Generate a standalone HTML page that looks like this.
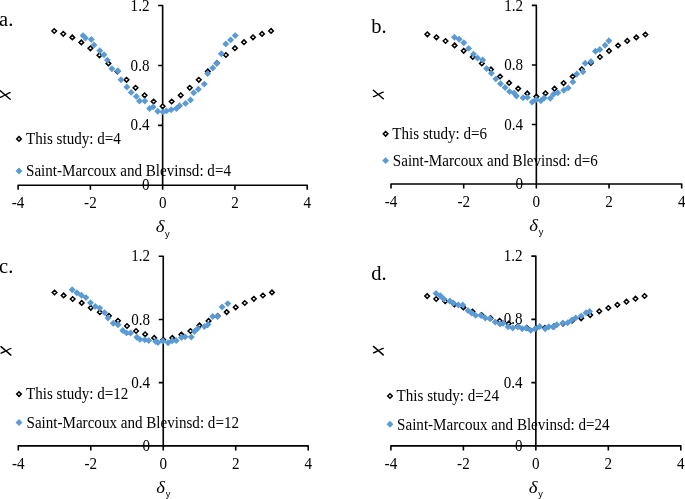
<!DOCTYPE html>
<html><head><meta charset="utf-8"><style>
html,body{margin:0;padding:0;background:#fff;}
body{width:685px;height:499px;overflow:hidden;}
svg{display:block;will-change:transform;}
.t{font-family:"Liberation Serif", serif;font-size:15.1px;fill:#000;}
.pl{font-family:"Liberation Serif", serif;font-size:20.5px;fill:#000;}
.dl{font-family:"Liberation Serif", serif;font-style:italic;font-size:17px;fill:#000;}
.sub{font-family:"Liberation Sans", sans-serif;font-size:9.2px;fill:#000;}
.chi{font-family:"Liberation Serif", serif;font-style:italic;font-size:16px;fill:#000;}
.o{fill:#fff;stroke:#000;stroke-width:1.5;}
</style></head><body>
<svg width="685" height="499" viewBox="0 0 685 499">
<rect width="685" height="499" fill="#fff"/>
<path d="M18.10 189.80V185.30H307.20V189.80M90.38 185.30V189.80M162.65 185.30V189.80M234.92 185.30V189.80M158.15 5.50H162.65V185.30M158.15 185.30H162.65M158.15 125.37H162.65M158.15 65.43H162.65" stroke="#000" stroke-width="1.6" fill="none" stroke-linecap="butt" stroke-linejoin="round"/>
<text transform="translate(149.45 190.40) scale(1 1.075)" text-anchor="end" class="t">0</text>
<text transform="translate(149.45 130.47) scale(1 1.075)" text-anchor="end" class="t">0.4</text>
<text transform="translate(149.45 70.53) scale(1 1.075)" text-anchor="end" class="t">0.8</text>
<text transform="translate(149.45 10.60) scale(1 1.075)" text-anchor="end" class="t">1.2</text>
<text transform="translate(18.10 208.10) scale(1 1.075)" text-anchor="middle" class="t">-4</text>
<text transform="translate(90.38 208.10) scale(1 1.075)" text-anchor="middle" class="t">-2</text>
<text transform="translate(162.65 208.10) scale(1 1.075)" text-anchor="middle" class="t">0</text>
<text transform="translate(234.92 208.10) scale(1 1.075)" text-anchor="middle" class="t">2</text>
<text transform="translate(307.20 208.10) scale(1 1.075)" text-anchor="middle" class="t">4</text>
<text transform="translate(155.65 232.10) scale(1.1 1)" class="dl">δ</text><text x="165.05" y="236.50" class="sub">y</text>
<g transform="translate(5.30 95.00)" stroke="#000" fill="none" stroke-linecap="round"><path d="M-5.0 -4.2L4.9 4.3" stroke-width="1.45"/><path d="M-5.0 2.3C-2.5 1.6 -1.5 0.6 0 0S2.5 -1.6 4.9 -2.3" stroke-width="1.3"/></g>
<path d="M54.24 28.70L56.54 31.00L54.24 33.30L51.94 31.00Z" class="o"/>
<path d="M63.27 31.50L65.57 33.80L63.27 36.10L60.97 33.80Z" class="o"/>
<path d="M72.31 35.10L74.61 37.40L72.31 39.70L70.01 37.40Z" class="o"/>
<path d="M81.34 40.10L83.64 42.40L81.34 44.70L79.04 42.40Z" class="o"/>
<path d="M90.38 46.00L92.68 48.30L90.38 50.60L88.08 48.30Z" class="o"/>
<path d="M99.41 53.00L101.71 55.30L99.41 57.60L97.11 55.30Z" class="o"/>
<path d="M108.44 61.10L110.74 63.40L108.44 65.70L106.14 63.40Z" class="o"/>
<path d="M117.48 69.10L119.78 71.40L117.48 73.70L115.18 71.40Z" class="o"/>
<path d="M126.51 77.50L128.81 79.80L126.51 82.10L124.21 79.80Z" class="o"/>
<path d="M135.55 85.50L137.85 87.80L135.55 90.10L133.25 87.80Z" class="o"/>
<path d="M144.58 93.00L146.88 95.30L144.58 97.60L142.28 95.30Z" class="o"/>
<path d="M153.62 99.20L155.92 101.50L153.62 103.80L151.32 101.50Z" class="o"/>
<path d="M162.65 104.00L164.95 106.30L162.65 108.60L160.35 106.30Z" class="o"/>
<path d="M171.68 99.20L173.98 101.50L171.68 103.80L169.38 101.50Z" class="o"/>
<path d="M180.72 93.00L183.02 95.30L180.72 97.60L178.42 95.30Z" class="o"/>
<path d="M189.75 85.50L192.05 87.80L189.75 90.10L187.45 87.80Z" class="o"/>
<path d="M198.79 77.50L201.09 79.80L198.79 82.10L196.49 79.80Z" class="o"/>
<path d="M207.82 69.10L210.12 71.40L207.82 73.70L205.52 71.40Z" class="o"/>
<path d="M216.86 60.90L219.16 63.20L216.86 65.50L214.56 63.20Z" class="o"/>
<path d="M225.89 52.70L228.19 55.00L225.89 57.30L223.59 55.00Z" class="o"/>
<path d="M234.93 45.90L237.23 48.20L234.93 50.50L232.62 48.20Z" class="o"/>
<path d="M243.96 39.90L246.26 42.20L243.96 44.50L241.66 42.20Z" class="o"/>
<path d="M252.99 35.00L255.29 37.30L252.99 39.60L250.69 37.30Z" class="o"/>
<path d="M262.03 31.60L264.33 33.90L262.03 36.20L259.73 33.90Z" class="o"/>
<path d="M271.06 28.60L273.36 30.90L271.06 33.20L268.76 30.90Z" class="o"/>
<path d="M83.00 32.15L86.45 35.60L83.00 39.05L79.55 35.60ZM85.40 34.55L88.85 38.00L85.40 41.45L81.95 38.00ZM91.40 36.05L94.85 39.50L91.40 42.95L87.95 39.50ZM94.00 41.65L97.45 45.10L94.00 48.55L90.55 45.10ZM99.80 47.25L103.25 50.70L99.80 54.15L96.35 50.70ZM104.00 51.25L107.45 54.70L104.00 58.15L100.55 54.70ZM107.40 56.65L110.85 60.10L107.40 63.55L103.95 60.10ZM111.90 65.35L115.35 68.80L111.90 72.25L108.45 68.80ZM118.00 67.55L121.45 71.00L118.00 74.45L114.55 71.00ZM121.00 76.35L124.45 79.80L121.00 83.25L117.55 79.80ZM126.90 83.55L130.35 87.00L126.90 90.45L123.45 87.00ZM131.20 88.95L134.65 92.40L131.20 95.85L127.75 92.40ZM136.30 92.95L139.75 96.40L136.30 99.85L132.85 96.40ZM139.50 97.55L142.95 101.00L139.50 104.45L136.05 101.00ZM144.80 97.55L148.25 101.00L144.80 104.45L141.35 101.00ZM149.60 105.05L153.05 108.50L149.60 111.95L146.15 108.50ZM153.20 103.45L156.65 106.90L153.20 110.35L149.75 106.90ZM157.70 107.85L161.15 111.30L157.70 114.75L154.25 111.30ZM163.00 108.45L166.45 111.90L163.00 115.35L159.55 111.90ZM166.40 107.45L169.85 110.90L166.40 114.35L162.95 110.90ZM171.20 106.25L174.65 109.70L171.20 113.15L167.75 109.70ZM176.40 105.05L179.85 108.50L176.40 111.95L172.95 108.50ZM179.60 102.35L183.05 105.80L179.60 109.25L176.15 105.80ZM185.50 99.95L188.95 103.40L185.50 106.85L182.05 103.40ZM190.50 96.55L193.95 100.00L190.50 103.45L187.05 100.00ZM193.70 89.35L197.15 92.80L193.70 96.25L190.25 92.80ZM198.40 85.85L201.85 89.30L198.40 92.75L194.95 89.30ZM204.30 80.65L207.75 84.10L204.30 87.55L200.85 84.10ZM207.60 70.15L211.05 73.60L207.60 77.05L204.15 73.60ZM212.80 64.55L216.25 68.00L212.80 71.45L209.35 68.00ZM216.90 59.75L220.35 63.20L216.90 66.65L213.45 63.20ZM221.30 50.25L224.75 53.70L221.30 57.15L217.85 53.70ZM225.80 40.45L229.25 43.90L225.80 47.35L222.35 43.90ZM230.60 36.45L234.05 39.90L230.60 43.35L227.15 39.90ZM235.20 32.15L238.65 35.60L235.20 39.05L231.75 35.60Z" fill="#5B9BD5"/>
<path d="M19.00 136.60L21.30 138.90L19.00 141.20L16.70 138.90Z" class="o"/>
<path d="M19.00 167.55L22.45 171.00L19.00 174.45L15.55 171.00Z" fill="#5B9BD5"/>
<text transform="translate(26.00 143.80) scale(1 1.075)" class="t">This study: d=4</text>
<text transform="translate(26.00 175.60) scale(1 1.075)" class="t">Saint-Marcoux and Blevinsd: d=4</text>
<text x="-0.90" y="25.90" class="pl">a.</text>
<path d="M391.00 188.50V184.00H681.70V188.50M463.68 184.00V188.50M536.35 184.00V188.50M609.03 184.00V188.50M531.85 5.40H536.35V184.00M531.85 184.00H536.35M531.85 124.47H536.35M531.85 64.93H536.35" stroke="#000" stroke-width="1.6" fill="none" stroke-linecap="butt" stroke-linejoin="round"/>
<text transform="translate(523.15 189.10) scale(1 1.075)" text-anchor="end" class="t">0</text>
<text transform="translate(523.15 129.57) scale(1 1.075)" text-anchor="end" class="t">0.4</text>
<text transform="translate(523.15 70.03) scale(1 1.075)" text-anchor="end" class="t">0.8</text>
<text transform="translate(523.15 10.50) scale(1 1.075)" text-anchor="end" class="t">1.2</text>
<text transform="translate(391.00 206.80) scale(1 1.075)" text-anchor="middle" class="t">-4</text>
<text transform="translate(463.68 206.80) scale(1 1.075)" text-anchor="middle" class="t">-2</text>
<text transform="translate(536.35 206.80) scale(1 1.075)" text-anchor="middle" class="t">0</text>
<text transform="translate(609.03 206.80) scale(1 1.075)" text-anchor="middle" class="t">2</text>
<text transform="translate(681.70 206.80) scale(1 1.075)" text-anchor="middle" class="t">4</text>
<text transform="translate(529.35 230.80) scale(1.1 1)" class="dl">δ</text><text x="538.75" y="235.20" class="sub">y</text>
<g transform="translate(378.40 94.40)" stroke="#000" fill="none" stroke-linecap="round"><path d="M-5.0 -4.2L4.9 4.3" stroke-width="1.45"/><path d="M-5.0 2.3C-2.5 1.6 -1.5 0.6 0 0S2.5 -1.6 4.9 -2.3" stroke-width="1.3"/></g>
<path d="M427.34 32.00L429.64 34.30L427.34 36.60L425.04 34.30Z" class="o"/>
<path d="M436.42 35.00L438.72 37.30L436.42 39.60L434.12 37.30Z" class="o"/>
<path d="M445.51 38.70L447.81 41.00L445.51 43.30L443.21 41.00Z" class="o"/>
<path d="M454.59 43.10L456.89 45.40L454.59 47.70L452.29 45.40Z" class="o"/>
<path d="M463.68 48.50L465.98 50.80L463.68 53.10L461.38 50.80Z" class="o"/>
<path d="M472.76 54.60L475.06 56.90L472.76 59.20L470.46 56.90Z" class="o"/>
<path d="M481.84 61.10L484.14 63.40L481.84 65.70L479.54 63.40Z" class="o"/>
<path d="M490.93 67.10L493.23 69.40L490.93 71.70L488.63 69.40Z" class="o"/>
<path d="M500.01 74.20L502.31 76.50L500.01 78.80L497.71 76.50Z" class="o"/>
<path d="M509.10 80.60L511.40 82.90L509.10 85.20L506.80 82.90Z" class="o"/>
<path d="M518.18 86.30L520.48 88.60L518.18 90.90L515.88 88.60Z" class="o"/>
<path d="M527.27 91.10L529.57 93.40L527.27 95.70L524.97 93.40Z" class="o"/>
<path d="M536.35 94.30L538.65 96.60L536.35 98.90L534.05 96.60Z" class="o"/>
<path d="M545.43 91.00L547.73 93.30L545.43 95.60L543.13 93.30Z" class="o"/>
<path d="M554.52 86.40L556.82 88.70L554.52 91.00L552.22 88.70Z" class="o"/>
<path d="M563.60 80.80L565.90 83.10L563.60 85.40L561.30 83.10Z" class="o"/>
<path d="M572.69 74.20L574.99 76.50L572.69 78.80L570.39 76.50Z" class="o"/>
<path d="M581.77 67.00L584.07 69.30L581.77 71.60L579.47 69.30Z" class="o"/>
<path d="M590.86 60.70L593.16 63.00L590.86 65.30L588.56 63.00Z" class="o"/>
<path d="M599.94 54.70L602.24 57.00L599.94 59.30L597.64 57.00Z" class="o"/>
<path d="M609.03 48.60L611.33 50.90L609.03 53.20L606.73 50.90Z" class="o"/>
<path d="M618.11 43.20L620.41 45.50L618.11 47.80L615.81 45.50Z" class="o"/>
<path d="M627.19 38.60L629.49 40.90L627.19 43.20L624.89 40.90Z" class="o"/>
<path d="M636.28 35.10L638.58 37.40L636.28 39.70L633.98 37.40Z" class="o"/>
<path d="M645.36 32.20L647.66 34.50L645.36 36.80L643.06 34.50Z" class="o"/>
<path d="M454.40 33.85L457.85 37.30L454.40 40.75L450.95 37.30ZM459.20 35.75L462.65 39.20L459.20 42.65L455.75 39.20ZM463.80 39.35L467.25 42.80L463.80 46.25L460.35 42.80ZM468.60 44.95L472.05 48.40L468.60 51.85L465.15 48.40ZM473.50 50.65L476.95 54.10L473.50 57.55L470.05 54.10ZM477.50 54.55L480.95 58.00L477.50 61.45L474.05 58.00ZM482.70 56.55L486.15 60.00L482.70 63.45L479.25 60.00ZM486.60 65.15L490.05 68.60L486.60 72.05L483.15 68.60ZM491.40 69.85L494.85 73.30L491.40 76.75L487.95 73.30ZM495.80 75.45L499.25 78.90L495.80 82.35L492.35 78.90ZM500.50 80.35L503.95 83.80L500.50 87.25L497.05 83.80ZM505.10 84.05L508.55 87.50L505.10 90.95L501.65 87.50ZM509.50 88.15L512.95 91.60L509.50 95.05L506.05 91.60ZM514.00 89.55L517.45 93.00L514.00 96.45L510.55 93.00ZM516.40 92.55L519.85 96.00L516.40 99.45L512.95 96.00ZM523.10 94.25L526.55 97.70L523.10 101.15L519.65 97.70ZM527.40 93.95L530.85 97.40L527.40 100.85L523.95 97.40ZM532.20 98.65L535.65 102.10L532.20 105.55L528.75 102.10ZM536.10 96.05L539.55 99.50L536.10 102.95L532.65 99.50ZM540.90 97.25L544.35 100.70L540.90 104.15L537.45 100.70ZM544.20 94.55L547.65 98.00L544.20 101.45L540.75 98.00ZM550.30 94.85L553.75 98.30L550.30 101.75L546.85 98.30ZM553.50 90.85L556.95 94.30L553.50 97.75L550.05 94.30ZM557.80 89.25L561.25 92.70L557.80 96.15L554.35 92.70ZM563.80 86.85L567.25 90.30L563.80 93.75L560.35 90.30ZM568.20 84.45L571.65 87.90L568.20 91.35L564.75 87.90ZM572.90 78.45L576.35 81.90L572.90 85.35L569.45 81.90ZM576.80 70.55L580.25 74.00L576.80 77.45L573.35 74.00ZM583.00 68.25L586.45 71.70L583.00 75.15L579.55 71.70ZM585.20 59.85L588.65 63.30L585.20 66.75L581.75 63.30ZM591.00 58.15L594.45 61.60L591.00 65.05L587.55 61.60ZM595.40 47.75L598.85 51.20L595.40 54.65L591.95 51.20ZM599.80 46.05L603.25 49.50L599.80 52.95L596.35 49.50ZM605.10 41.75L608.55 45.20L605.10 48.65L601.65 45.20ZM608.90 37.35L612.35 40.80L608.90 44.25L605.45 40.80Z" fill="#5B9BD5"/>
<path d="M385.60 131.50L387.90 133.80L385.60 136.10L383.30 133.80Z" class="o"/>
<path d="M385.60 157.15L389.05 160.60L385.60 164.05L382.15 160.60Z" fill="#5B9BD5"/>
<text transform="translate(392.30 139.00) scale(1 1.075)" class="t">This study: d=6</text>
<text transform="translate(392.80 165.90) scale(1 1.075)" class="t">Saint-Marcoux and Blevinsd: d=6</text>
<text x="371.30" y="33.00" class="pl">b.</text>
<path d="M18.30 450.40V445.90H308.20V450.40M90.77 445.90V450.40M163.25 445.90V450.40M235.72 445.90V450.40M158.75 256.20H163.25V445.90M158.75 445.90H163.25M158.75 382.67H163.25M158.75 319.43H163.25" stroke="#000" stroke-width="1.6" fill="none" stroke-linecap="butt" stroke-linejoin="round"/>
<text transform="translate(150.05 451.00) scale(1 1.075)" text-anchor="end" class="t">0</text>
<text transform="translate(150.05 387.77) scale(1 1.075)" text-anchor="end" class="t">0.4</text>
<text transform="translate(150.05 324.53) scale(1 1.075)" text-anchor="end" class="t">0.8</text>
<text transform="translate(150.05 261.30) scale(1 1.075)" text-anchor="end" class="t">1.2</text>
<text transform="translate(18.30 468.70) scale(1 1.075)" text-anchor="middle" class="t">-4</text>
<text transform="translate(90.77 468.70) scale(1 1.075)" text-anchor="middle" class="t">-2</text>
<text transform="translate(163.25 468.70) scale(1 1.075)" text-anchor="middle" class="t">0</text>
<text transform="translate(235.72 468.70) scale(1 1.075)" text-anchor="middle" class="t">2</text>
<text transform="translate(308.20 468.70) scale(1 1.075)" text-anchor="middle" class="t">4</text>
<text transform="translate(156.25 492.70) scale(1.1 1)" class="dl">δ</text><text x="165.65" y="497.10" class="sub">y</text>
<g transform="translate(6.00 350.80)" stroke="#000" fill="none" stroke-linecap="round"><path d="M-5.0 -4.2L4.9 4.3" stroke-width="1.45"/><path d="M-5.0 2.3C-2.5 1.6 -1.5 0.6 0 0S2.5 -1.6 4.9 -2.3" stroke-width="1.3"/></g>
<path d="M54.54 290.20L56.84 292.50L54.54 294.80L52.24 292.50Z" class="o"/>
<path d="M63.60 293.10L65.90 295.40L63.60 297.70L61.30 295.40Z" class="o"/>
<path d="M72.66 296.70L74.96 299.00L72.66 301.30L70.36 299.00Z" class="o"/>
<path d="M81.72 300.60L84.02 302.90L81.72 305.20L79.42 302.90Z" class="o"/>
<path d="M90.78 305.50L93.08 307.80L90.78 310.10L88.48 307.80Z" class="o"/>
<path d="M99.83 309.90L102.13 312.20L99.83 314.50L97.53 312.20Z" class="o"/>
<path d="M108.89 313.50L111.19 315.80L108.89 318.10L106.59 315.80Z" class="o"/>
<path d="M117.95 318.50L120.25 320.80L117.95 323.10L115.65 320.80Z" class="o"/>
<path d="M127.01 323.70L129.31 326.00L127.01 328.30L124.71 326.00Z" class="o"/>
<path d="M136.07 328.70L138.37 331.00L136.07 333.30L133.77 331.00Z" class="o"/>
<path d="M145.13 332.00L147.43 334.30L145.13 336.60L142.83 334.30Z" class="o"/>
<path d="M154.19 335.60L156.49 337.90L154.19 340.20L151.89 337.90Z" class="o"/>
<path d="M163.25 337.50L165.55 339.80L163.25 342.10L160.95 339.80Z" class="o"/>
<path d="M172.31 335.60L174.61 337.90L172.31 340.20L170.01 337.90Z" class="o"/>
<path d="M181.37 332.20L183.67 334.50L181.37 336.80L179.07 334.50Z" class="o"/>
<path d="M190.43 328.70L192.73 331.00L190.43 333.30L188.13 331.00Z" class="o"/>
<path d="M199.49 323.10L201.79 325.40L199.49 327.70L197.19 325.40Z" class="o"/>
<path d="M208.55 318.60L210.85 320.90L208.55 323.20L206.25 320.90Z" class="o"/>
<path d="M217.61 313.70L219.91 316.00L217.61 318.30L215.31 316.00Z" class="o"/>
<path d="M226.67 309.80L228.97 312.10L226.67 314.40L224.37 312.10Z" class="o"/>
<path d="M235.72 305.00L238.03 307.30L235.72 309.60L233.42 307.30Z" class="o"/>
<path d="M244.78 300.70L247.08 303.00L244.78 305.30L242.48 303.00Z" class="o"/>
<path d="M253.84 296.50L256.14 298.80L253.84 301.10L251.54 298.80Z" class="o"/>
<path d="M262.90 293.20L265.20 295.50L262.90 297.80L260.60 295.50Z" class="o"/>
<path d="M271.96 290.10L274.26 292.40L271.96 294.70L269.66 292.40Z" class="o"/>
<path d="M72.20 286.35L75.65 289.80L72.20 293.25L68.75 289.80ZM76.90 289.25L80.35 292.70L76.90 296.15L73.45 292.70ZM81.40 291.75L84.85 295.20L81.40 298.65L77.95 295.20ZM86.00 294.15L89.45 297.60L86.00 301.05L82.55 297.60ZM90.50 299.25L93.95 302.70L90.50 306.15L87.05 302.70ZM95.30 302.95L98.75 306.40L95.30 309.85L91.85 306.40ZM99.70 304.65L103.15 308.10L99.70 311.55L96.25 308.10ZM104.50 309.15L107.95 312.60L104.50 316.05L101.05 312.60ZM108.00 314.55L111.45 318.00L108.00 321.45L104.55 318.00ZM113.20 319.75L116.65 323.20L113.20 326.65L109.75 323.20ZM118.00 321.35L121.45 324.80L118.00 328.25L114.55 324.80ZM122.80 327.05L126.25 330.50L122.80 333.95L119.35 330.50ZM126.50 329.45L129.95 332.90L126.50 336.35L123.05 332.90ZM130.60 329.55L134.05 333.00L130.60 336.45L127.15 333.00ZM136.80 333.75L140.25 337.20L136.80 340.65L133.35 337.20ZM140.00 335.95L143.45 339.40L140.00 342.85L136.55 339.40ZM144.80 336.35L148.25 339.80L144.80 343.25L141.35 339.80ZM148.80 337.05L152.25 340.50L148.80 343.95L145.35 340.50ZM155.70 338.05L159.15 341.50L155.70 344.95L152.25 341.50ZM158.00 339.05L161.45 342.50L158.00 345.95L154.55 342.50ZM162.80 337.55L166.25 341.00L162.80 344.45L159.35 341.00ZM168.10 339.25L171.55 342.70L168.10 346.15L164.65 342.70ZM172.20 337.25L175.65 340.70L172.20 344.15L168.75 340.70ZM176.20 337.05L179.65 340.50L176.20 343.95L172.75 340.50ZM181.50 334.05L184.95 337.50L181.50 340.95L178.05 337.50ZM185.10 333.35L188.55 336.80L185.10 340.25L181.65 336.80ZM191.30 333.55L194.75 337.00L191.30 340.45L187.85 337.00ZM194.40 328.05L197.85 331.50L194.40 334.95L190.95 331.50ZM197.60 325.15L201.05 328.60L197.60 332.05L194.15 328.60ZM204.30 323.15L207.75 326.60L204.30 330.05L200.85 326.60ZM208.00 321.05L211.45 324.50L208.00 327.95L204.55 324.50ZM212.70 313.05L216.15 316.50L212.70 319.95L209.25 316.50ZM217.50 313.05L220.95 316.50L217.50 319.95L214.05 316.50ZM222.10 303.55L225.55 307.00L222.10 310.45L218.65 307.00ZM227.80 300.15L231.25 303.60L227.80 307.05L224.35 303.60Z" fill="#5B9BD5"/>
<path d="M19.00 391.80L21.30 394.10L19.00 396.40L16.70 394.10Z" class="o"/>
<path d="M19.00 419.05L22.45 422.50L19.00 425.95L15.55 422.50Z" fill="#5B9BD5"/>
<text transform="translate(26.00 399.00) scale(1 1.075)" class="t">This study: d=12</text>
<text transform="translate(26.50 427.80) scale(1 1.075)" class="t">Saint-Marcoux and Blevinsd: d=12</text>
<text x="-0.90" y="272.90" class="pl">c.</text>
<path d="M390.90 450.40V445.90H680.80V450.40M463.38 445.90V450.40M535.85 445.90V450.40M608.32 445.90V450.40M531.35 256.10H535.85V445.90M531.35 445.90H535.85M531.35 382.63H535.85M531.35 319.37H535.85" stroke="#000" stroke-width="1.6" fill="none" stroke-linecap="butt" stroke-linejoin="round"/>
<text transform="translate(522.65 451.00) scale(1 1.075)" text-anchor="end" class="t">0</text>
<text transform="translate(522.65 387.73) scale(1 1.075)" text-anchor="end" class="t">0.4</text>
<text transform="translate(522.65 324.47) scale(1 1.075)" text-anchor="end" class="t">0.8</text>
<text transform="translate(522.65 261.20) scale(1 1.075)" text-anchor="end" class="t">1.2</text>
<text transform="translate(390.90 468.70) scale(1 1.075)" text-anchor="middle" class="t">-4</text>
<text transform="translate(463.38 468.70) scale(1 1.075)" text-anchor="middle" class="t">-2</text>
<text transform="translate(535.85 468.70) scale(1 1.075)" text-anchor="middle" class="t">0</text>
<text transform="translate(608.32 468.70) scale(1 1.075)" text-anchor="middle" class="t">2</text>
<text transform="translate(680.80 468.70) scale(1 1.075)" text-anchor="middle" class="t">4</text>
<text transform="translate(528.85 492.70) scale(1.1 1)" class="dl">δ</text><text x="538.25" y="497.10" class="sub">y</text>
<g transform="translate(378.40 350.60)" stroke="#000" fill="none" stroke-linecap="round"><path d="M-5.0 -4.2L4.9 4.3" stroke-width="1.45"/><path d="M-5.0 2.3C-2.5 1.6 -1.5 0.6 0 0S2.5 -1.6 4.9 -2.3" stroke-width="1.3"/></g>
<path d="M427.14 293.80L429.44 296.10L427.14 298.40L424.84 296.10Z" class="o"/>
<path d="M436.20 296.70L438.50 299.00L436.20 301.30L433.90 299.00Z" class="o"/>
<path d="M445.26 298.90L447.56 301.20L445.26 303.50L442.96 301.20Z" class="o"/>
<path d="M454.32 302.10L456.62 304.40L454.32 306.70L452.02 304.40Z" class="o"/>
<path d="M463.37 305.10L465.67 307.40L463.37 309.70L461.07 307.40Z" class="o"/>
<path d="M472.43 309.20L474.73 311.50L472.43 313.80L470.13 311.50Z" class="o"/>
<path d="M481.49 312.70L483.79 315.00L481.49 317.30L479.19 315.00Z" class="o"/>
<path d="M490.55 315.90L492.85 318.20L490.55 320.50L488.25 318.20Z" class="o"/>
<path d="M499.61 318.50L501.91 320.80L499.61 323.10L497.31 320.80Z" class="o"/>
<path d="M508.67 321.30L510.97 323.60L508.67 325.90L506.37 323.60Z" class="o"/>
<path d="M517.73 324.00L520.03 326.30L517.73 328.60L515.43 326.30Z" class="o"/>
<path d="M526.79 325.60L529.09 327.90L526.79 330.20L524.49 327.90Z" class="o"/>
<path d="M535.85 326.20L538.15 328.50L535.85 330.80L533.55 328.50Z" class="o"/>
<path d="M544.91 325.60L547.21 327.90L544.91 330.20L542.61 327.90Z" class="o"/>
<path d="M553.97 324.00L556.27 326.30L553.97 328.60L551.67 326.30Z" class="o"/>
<path d="M563.03 321.30L565.33 323.60L563.03 325.90L560.73 323.60Z" class="o"/>
<path d="M572.09 318.40L574.39 320.70L572.09 323.00L569.79 320.70Z" class="o"/>
<path d="M581.15 316.00L583.45 318.30L581.15 320.60L578.85 318.30Z" class="o"/>
<path d="M590.21 312.80L592.51 315.10L590.21 317.40L587.91 315.10Z" class="o"/>
<path d="M599.27 309.00L601.57 311.30L599.27 313.60L596.97 311.30Z" class="o"/>
<path d="M608.32 305.70L610.62 308.00L608.32 310.30L606.02 308.00Z" class="o"/>
<path d="M617.38 302.50L619.68 304.80L617.38 307.10L615.08 304.80Z" class="o"/>
<path d="M626.44 299.40L628.74 301.70L626.44 304.00L624.14 301.70Z" class="o"/>
<path d="M635.50 296.40L637.80 298.70L635.50 301.00L633.20 298.70Z" class="o"/>
<path d="M644.56 293.70L646.86 296.00L644.56 298.30L642.26 296.00Z" class="o"/>
<path d="M436.00 289.95L439.45 293.40L436.00 296.85L432.55 293.40ZM440.40 292.35L443.85 295.80L440.40 299.25L436.95 295.80ZM443.80 295.55L447.25 299.00L443.80 302.45L440.35 299.00ZM449.80 297.55L453.25 301.00L449.80 304.45L446.35 301.00ZM453.20 299.55L456.65 303.00L453.20 306.45L449.75 303.00ZM458.40 301.55L461.85 305.00L458.40 308.45L454.95 305.00ZM462.80 301.55L466.25 305.00L462.80 308.45L459.35 305.00ZM468.00 307.15L471.45 310.60L468.00 314.05L464.55 310.60ZM471.60 309.55L475.05 313.00L471.60 316.45L468.15 313.00ZM475.70 311.95L479.15 315.40L475.70 318.85L472.25 315.40ZM481.00 312.05L484.45 315.50L481.00 318.95L477.55 315.50ZM485.30 314.55L488.75 318.00L485.30 321.45L481.85 318.00ZM490.00 315.35L493.45 318.80L490.00 322.25L486.55 318.80ZM495.20 318.55L498.65 322.00L495.20 325.45L491.75 322.00ZM500.00 320.55L503.45 324.00L500.00 327.45L496.55 324.00ZM503.20 319.75L506.65 323.20L503.20 326.65L499.75 323.20ZM508.00 323.35L511.45 326.80L508.00 330.25L504.55 326.80ZM512.70 324.55L516.15 328.00L512.70 331.45L509.25 328.00ZM518.00 323.15L521.45 326.60L518.00 330.05L514.55 326.60ZM522.20 325.35L525.65 328.80L522.20 332.25L518.75 328.80ZM526.20 324.55L529.65 328.00L526.20 331.45L522.75 328.00ZM530.70 326.95L534.15 330.40L530.70 333.85L527.25 330.40ZM535.10 325.35L538.55 328.80L535.10 332.25L531.65 328.80ZM539.70 323.05L543.15 326.50L539.70 329.95L536.25 326.50ZM545.20 325.25L548.65 328.70L545.20 332.15L541.75 328.70ZM548.80 323.25L552.25 326.70L548.80 330.15L545.35 326.70ZM553.20 323.65L556.65 327.10L553.20 330.55L549.75 327.10ZM556.80 321.25L560.25 324.70L556.80 328.15L553.35 324.70ZM562.80 319.65L566.25 323.10L562.80 326.55L559.35 323.10ZM567.70 319.25L571.15 322.70L567.70 326.15L564.25 322.70ZM571.80 316.65L575.25 320.10L571.80 323.55L568.35 320.10ZM575.70 314.45L579.15 317.90L575.70 321.35L572.25 317.90ZM581.20 312.45L584.65 315.90L581.20 319.35L577.75 315.90ZM586.00 309.25L589.45 312.70L586.00 316.15L582.55 312.70ZM589.60 308.05L593.05 311.50L589.60 314.95L586.15 311.50Z" fill="#5B9BD5"/>
<path d="M390.00 393.70L392.30 396.00L390.00 398.30L387.70 396.00Z" class="o"/>
<path d="M390.00 420.85L393.45 424.30L390.00 427.75L386.55 424.30Z" fill="#5B9BD5"/>
<text transform="translate(396.60 401.00) scale(1 1.075)" class="t">This study: d=24</text>
<text transform="translate(397.10 429.90) scale(1 1.075)" class="t">Saint-Marcoux and Blevinsd: d=24</text>
<text x="371.30" y="279.80" class="pl">d.</text>
</svg>
</body></html>
